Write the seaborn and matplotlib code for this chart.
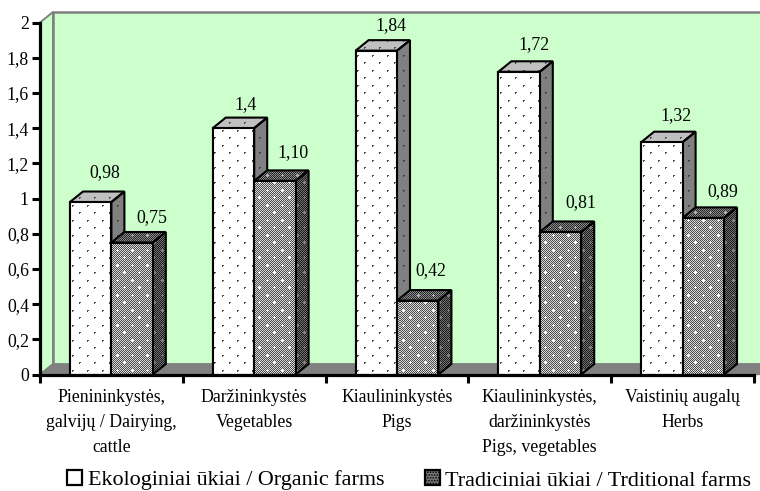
import numpy as np
import pandas as pd
import matplotlib
matplotlib.use("Agg")
import matplotlib.pyplot as plt
import seaborn as sns
from matplotlib.patches import Polygon, Patch
from matplotlib.transforms import ScaledTranslation, IdentityTransform

# Data
categories = ["Pienininkystės,\ngalvijų / Dairying,\ncattle", "Daržininkystės\nVegetables",
              "Kiaulininkystės\nPigs", "Kiaulininkystės,\ndaržininkystės\nPigs, vegetables",
              "Vaistinių augalų\nHerbs"]
organic = [0.98, 1.40, 1.84, 1.72, 1.32]
traditional = [0.75, 1.10, 0.42, 0.81, 0.89]
organic_labels = ["0,98", "1,4", "1,84", "1,72", "1,32"]
traditional_labels = ["0,75", "1,10", "0,42", "0,81", "0,89"]
ytick_values = [0, 0.2, 0.4, 0.6, 0.8, 1, 1.2, 1.4, 1.6, 1.8, 2]
ytick_labels = ["0", "0,2", "0,4", "0,6", "0,8", "1", "1,2", "1,4", "1,6", "1,8", "2"]
series_names = ["Ekologiniai ūkiai / Organic farms", "Tradiciniai ūkiai / Trditional farms"]

df = pd.DataFrame({
    "category": categories * 2,
    "value": organic + traditional,
    "farm": [series_names[0]] * 5 + [series_names[1]] * 5,
})

sns.set_theme(style="white")
plt.rcParams["font.family"] = ["Liberation Serif", "DejaVu Serif"]
plt.rcParams["hatch.linewidth"] = 0.8

W, H = 760, 491
fig = plt.figure(figsize=(W / 100, H / 100), dpi=100)
ax = fig.add_axes([40 / W, (H - 374.5) / H, 714 / W, 352 / H])
ax.patch.set_alpha(0)

sns.barplot(data=df, x="category", y="value", hue="farm", width=0.58, gap=0,
            palette=["white", "#808080"], edgecolor="black", linewidth=1.5,
            legend=False, ax=ax, zorder=3)

ax.set_xlim(-0.5, 4.5)
ax.set_ylim(0, 2)
DX, DY = 13, 10.5


def shift(dx, dy):
    return ax.transData + ScaledTranslation(dx / 100, dy / 100, fig.dpi_scale_trans)


# pixel textures, one for each shade
yy, xx = np.mgrid[0:H, 0:W]
dots = ((yy % 15 == 3) & (xx % 15 == 4)) | ((yy % 15 == 11) & (xx % 15 == 12))


def dotted(base, dot):
    tex = np.full((H, W), base, dtype=float)
    tex[dots | np.roll(dots, 1, axis=1) | np.roll(dots, 1, axis=0)] = dot
    return tex


def dither(lo, hi, dot):
    tex = np.where((xx + yy) % 2 == 0, lo, hi).astype(float)
    for i in (-1, 0, 1):
        tex[np.roll(dots, i, axis=1)] = dot
        tex[np.roll(dots, i, axis=0)] = dot
    return tex


tex_white = dotted(1.0, 0.3)
tex_white_top = dotted(0.75, 0.3)
tex_white_side = dotted(0.5, 0.25)
tex_dark = dither(0.3, 0.85, 1.0)
tex_dark_top = dither(0.15, 0.55, 0.7)
tex_dark_side = dither(0.1, 0.45, 0.5)


def paint(patch, tex, z):
    im = ax.imshow(tex, cmap="gray", vmin=0, vmax=1, extent=(0, W, 0, H), origin="upper",
                   aspect="auto", interpolation="nearest", transform=IdentityTransform(),
                   zorder=z)
    im.set_clip_path(patch)


def box_faces(bar, front_tex, top_tex, side_tex, z):
    x0, x1 = bar.get_x(), bar.get_x() + bar.get_width()
    h = bar.get_height()
    to_disp = ax.transData.transform
    a, b = to_disp((x0, h)), to_disp((x1, h))
    c = to_disp((x1, 0))
    off = np.array([DX, DY])
    top = np.array([a, b, b + off, a + off])
    side = np.array([b, c, c + off, b + off])
    for pts, tex in ((side, side_tex), (top, top_tex)):
        poly = Polygon(pts, closed=True, facecolor="none", edgecolor="black", linewidth=1.5,
                       transform=IdentityTransform(), zorder=z + 0.2, clip_on=False)
        ax.add_patch(poly)
        paint(poly, tex, z + 0.1)
    front = Polygon(to_disp([(x0, 0), (x1, 0), (x1, h), (x0, h)]), closed=True,
                    facecolor="none", edgecolor="black", linewidth=1.5,
                    transform=IdentityTransform(), zorder=z + 0.4, clip_on=False)
    ax.add_patch(front)
    paint(front, front_tex, z + 0.3)


# back wall, side wall and floor
wall = shift(DX, DY)
ax.add_patch(Polygon([(-0.5, 0), (4.6, 0), (4.6, 2), (-0.5, 2)], closed=True, facecolor="#CCFFCC",
                     edgecolor="#808080", linewidth=1.8, transform=wall, zorder=0.5, clip_on=False))
fig.canvas.draw()
p00 = ax.transData.transform((-0.5, 0))
p02 = ax.transData.transform((-0.5, 2))
p40 = ax.transData.transform((4.6, 0))
off = np.array([DX, DY])
ax.add_patch(Polygon([p00, p00 + off, p02 + off, p02], closed=True, facecolor="#CCFFCC",
                     edgecolor="#808080", linewidth=1.4, transform=IdentityTransform(), zorder=0.6,
                     clip_on=False))
ax.add_patch(Polygon([p00, p00 + off, p40 + off, p40], closed=True, facecolor="#808080",
                     edgecolor="#808080", linewidth=1, transform=IdentityTransform(), zorder=0.7,
                     clip_on=False))

for bar in ax.containers[0]:
    box_faces(bar, tex_white, tex_white_top, tex_white_side, 3)
for bar in ax.containers[1]:
    box_faces(bar, tex_dark, tex_dark_top, tex_dark_side, 4)

# value labels, nudged by hand (pixels from the bar's top centre)
organic_nudge = [(14, 29), (12, 24), (15, 25), (15, 27), (14, 27)]
traditional_nudge = [(20, 25), (18, 28), (13, 30), (20, 29), (19, 26)]
rows = [(ax.containers[0], organic_labels, organic_nudge),
        (ax.containers[1], traditional_labels, traditional_nudge)]
for container, labels, nudges in rows:
    for bar, lab, nudge in zip(container, labels, nudges):
        ax.annotate(lab, (bar.get_x() + bar.get_width() / 2, bar.get_height()),
                    xytext=nudge, textcoords="offset pixels", ha="center", va="center",
                    fontsize=12.8, color="black", zorder=6, annotation_clip=False)

ax.set_xlim(-0.5, 4.5)
ax.set_ylim(0, 2)
ax.set_xlabel("")
ax.set_ylabel("")
ax.set_yticks(ytick_values, ytick_labels, fontsize=12.8, color="black")
ax.set_xticks(np.arange(-0.5, 5, 1), [""] * 6)
ax.set_xticks(range(5), categories, minor=True, fontsize=12.8, color="black", linespacing=1.6)
ax.tick_params(axis="both", which="major", length=6, width=2.2, color="black", direction="out",
               left=True, bottom=True)
ax.tick_params(axis="y", pad=2)
ax.tick_params(axis="x", which="minor", length=0, pad=10.5, bottom=False)
sns.despine(ax=ax)
for s in ("left", "bottom"):
    ax.spines[s].set_linewidth(2.3)
    ax.spines[s].set_color("black")
    ax.spines[s].set_zorder(7)

# legend
handles = [Patch(facecolor="white", edgecolor="black", linewidth=1.6, label=series_names[0]),
           Patch(facecolor="#777777", edgecolor="black", linewidth=1.6, hatch="......", label=series_names[1])]
fig.legend(handles=handles, loc="lower left", bbox_to_anchor=(67 / W, 0.5 / H), ncol=2, frameon=False,
           fontsize=15.9, handlelength=0.68, handleheight=0.68, handletextpad=0.25, columnspacing=1.85,
           labelcolor="black", borderpad=0, borderaxespad=0)

fig.savefig("out.png", dpi=100)
